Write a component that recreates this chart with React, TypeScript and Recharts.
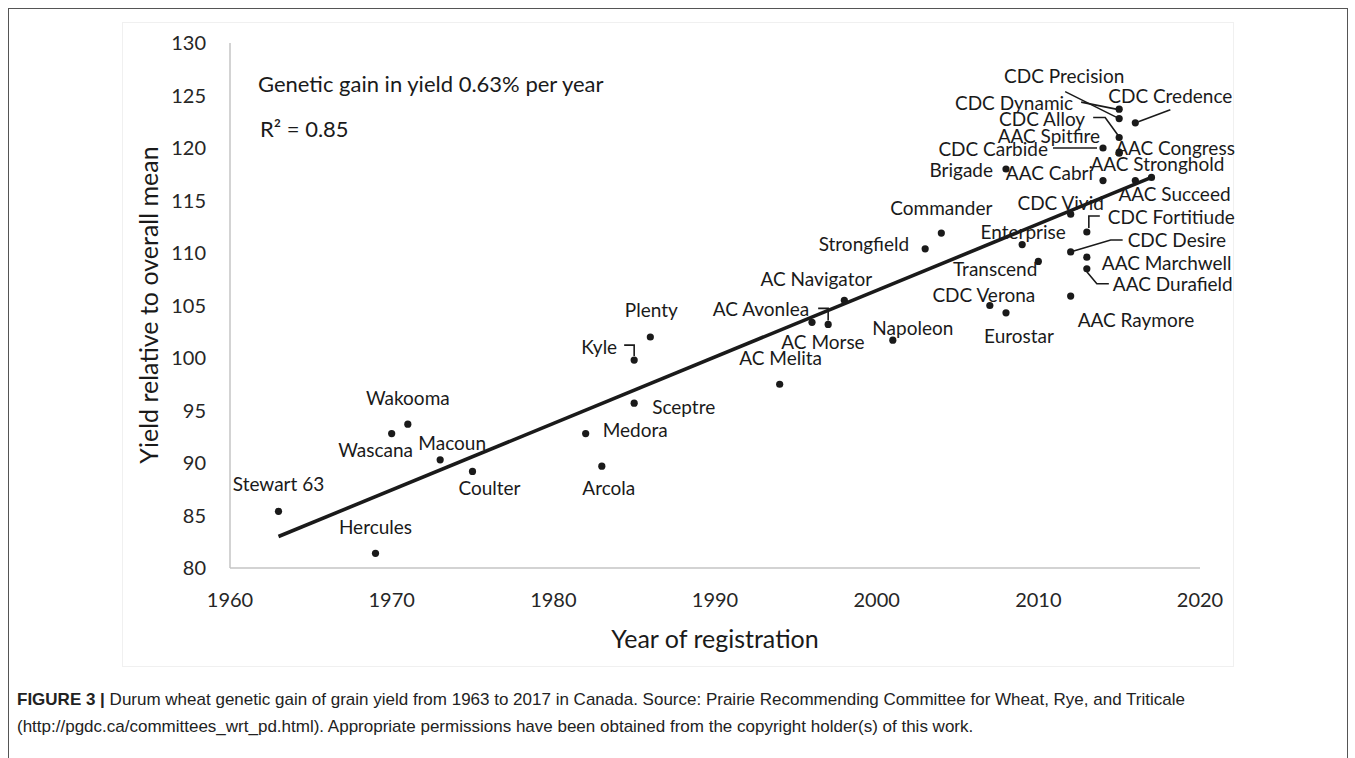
import { Scatter, ScatterChart, XAxis, YAxis } from 'recharts';

// cultivar data
const cultivars = [
  'Stewart 63', 'Hercules', 'Wascana', 'Wakooma', 'Macoun', 'Coulter', 'Medora', 'Arcola',
  'Sceptre', 'Kyle', 'Plenty', 'AC Melita', 'AC Morse', 'AC Avonlea', 'AC Navigator', 'Napoleon',
  'Strongfield', 'Commander', 'CDC Verona', 'Eurostar', 'Brigade', 'Enterprise', 'Transcend',
  'CDC Vivid', 'CDC Desire', 'AAC Raymore', 'CDC Fortitiude', 'AAC Marchwell', 'AAC Durafield',
  'AAC Cabri', 'CDC Carbide', 'AAC Stronghold', 'AAC Succeed', 'CDC Precision', 'CDC Dynamic',
  'CDC Credence', 'CDC Alloy', 'AAC Spitfire', 'AAC Congress',
];
const regYears = [
  1963, 1969, 1970, 1971, 1973, 1975, 1982, 1983,
  1985, 1985, 1986, 1994, 1996, 1997, 1998, 2001,
  2003, 2004, 2007, 2008, 2008, 2009, 2010,
  2012, 2012, 2012, 2013, 2013, 2013,
  2014, 2014, 2016, 2017, 2015, 2015,
  2016, 2015, 2015, 2015,
];
const yieldValues = [
  85.4, 81.4, 92.8, 93.7, 90.3, 89.2, 92.8, 89.7,
  95.7, 99.8, 102.0, 97.5, 103.4, 103.2, 105.5, 101.7,
  110.4, 111.9, 105.0, 104.3, 118.0, 110.8, 109.2,
  113.7, 110.1, 105.9, 112.0, 109.6, 108.5,
  116.9, 120.0, 116.9, 117.2, 122.8, 123.7,
  122.4, 121.0, 119.6, 119.5,
];

// linear trend
const trendYears = [1963, 2017];
const trendYield = [83.0, 117.2];

const xTicks = [1960, 1970, 1980, 1990, 2000, 2010, 2020];
const yTicks = [80, 85, 90, 95, 100, 105, 110, 115, 120, 125, 130];

const points = cultivars.map((name, i) => ({ name, year: regYears[i], y: yieldValues[i] }));
const trend = trendYears.map((year, i) => ({ year, y: trendYield[i] }));

// label placement relative to the dot (px), with optional leader line
type LabelPos = { dx: number; dy: number; anchor?: 'start' | 'middle' | 'end'; leader?: number[][] };
const labelLayout: Record<string, LabelPos> = {
  'Stewart 63': { dx: 0, dy: -28 },
  Hercules: { dx: 0, dy: -27 },
  Wascana: { dx: -16, dy: 16 },
  Wakooma: { dx: 0, dy: -27 },
  Macoun: { dx: 12, dy: -17 },
  Coulter: { dx: 17, dy: 16 },
  Medora: { dx: 17, dy: -4, anchor: 'start' },
  Arcola: { dx: 7, dy: 21 },
  Sceptre: { dx: 18, dy: 3, anchor: 'start' },
  Kyle: { dx: -17, dy: -14, anchor: 'end', leader: [[-10, -15], [0, -15], [0, -4]] },
  Plenty: { dx: 1, dy: -28 },
  'AC Melita': { dx: 1, dy: -27 },
  'AC Morse': { dx: 11, dy: 19 },
  'AC Avonlea': { dx: -19, dy: -16, anchor: 'end', leader: [[-10, -16], [0, -16], [0, -4]] },
  'AC Navigator': { dx: -28, dy: -22 },
  Napoleon: { dx: 20, dy: -13 },
  Strongfield: { dx: -16, dy: -5, anchor: 'end' },
  Commander: { dx: 0, dy: -26 },
  'CDC Verona': { dx: -6, dy: -11 },
  Eurostar: { dx: 13, dy: 23 },
  Brigade: { dx: -13, dy: 0, anchor: 'end' },
  Enterprise: { dx: 1, dy: -13 },
  Transcend: { dx: -1, dy: 7, anchor: 'end' },
  'CDC Vivid': { dx: -10, dy: -12 },
  'CDC Desire': { dx: 57, dy: -12, anchor: 'start', leader: [[3, -1], [40, -12], [52, -12]] },
  'AAC Raymore': { dx: 7, dy: 23, anchor: 'start' },
  'CDC Fortitiude': { dx: 21, dy: -16, anchor: 'start', leader: [[2, -4], [2, -16], [13, -16]] },
  'AAC Marchwell': { dx: 15, dy: 5, anchor: 'start' },
  'AAC Durafield': { dx: 26, dy: 15, anchor: 'start', leader: [[0, 3], [10, 15], [22, 15]] },
  'AAC Cabri': { dx: -10, dy: -8, anchor: 'end' },
  'CDC Carbide': { dx: -55, dy: 0, anchor: 'end', leader: [[-50, 0], [-6, 0]] },
  'AAC Stronghold': { dx: 22, dy: -17 },
  'AAC Succeed': { dx: 23, dy: 16 },
  'CDC Precision': { dx: -55, dy: -43, leader: [[-54, -27], [-2, -1]] },
  'CDC Dynamic': { dx: -46, dy: -7, anchor: 'end', leader: [[-38, -7], [-3, 0]] },
  'CDC Credence': { dx: 35, dy: -27, leader: [[3, -1], [35, -13]] },
  'CDC Alloy': { dx: -34, dy: -19, anchor: 'end', leader: [[-26, -20], [-14, -20], [-1, -2]] },
  'AAC Spitfire': { dx: -19, dy: -17, anchor: 'end' },
  'AAC Congress': { dx: -4, dy: -6, anchor: 'start' },
};

const FONT = 'Lato, "Open Sans", sans-serif';
const INK = '#1a1a1a';

function CultivarDot(props: any) {
  const { cx, cy, payload } = props;
  const pos = labelLayout[payload.name] || { dx: 0, dy: -25 };
  return (
    <g>
      {pos.leader && (
        <polyline
          points={pos.leader.map(([x, y]) => `${cx + x},${cy + y}`).join(' ')}
          fill="none"
          stroke={INK}
          strokeWidth={1.6}
        />
      )}
      <circle cx={cx} cy={cy} r={3.6} fill={INK} />
      <text
        x={cx + pos.dx}
        y={cy + pos.dy}
        textAnchor={pos.anchor || 'middle'}
        dominantBaseline="central"
        fontSize={19}
        fontFamily={FONT}
        fill={INK}
      >
        {payload.name}
      </text>
    </g>
  );
}

export default function App() {
  return (
    <div style={{ position: 'absolute', left: 0, top: 0, width: 1355, height: 758, background: '#fff', overflow: 'hidden' }}>
      <div style={{ position: 'absolute', left: 8, top: 8, width: 1338, height: 780, border: '1px solid #555' }} />
      <div style={{ position: 'absolute', left: 122, top: 22, width: 1110, height: 643, border: '1px solid #f0f0f0' }} />

      <div style={{ position: 'absolute', left: 0, top: 0 }}>
        <ScatterChart width={1355} height={680} margin={{ top: 43, right: 155, bottom: 32, left: 130 }}>
          <XAxis
            type="number"
            dataKey="year"
            domain={[1960, 2020]}
            ticks={xTicks}
            height={80}
            tickLine={false}
            tickSize={0}
            tickMargin={25}
            axisLine={{ stroke: '#c4c4c4', strokeWidth: 1.5 }}
            tick={{ fontSize: 20, fontFamily: FONT, fill: '#262626' }}
          />
          <YAxis
            type="number"
            dataKey="y"
            domain={[80, 130]}
            ticks={yTicks}
            width={100}
            tickLine={false}
            tickSize={0}
            tickMargin={24}
            axisLine={{ stroke: '#c4c4c4', strokeWidth: 1.5 }}
            tick={{ fontSize: 20, fontFamily: FONT, fill: '#262626' }}
          />
          <Scatter data={points} shape={CultivarDot} isAnimationActive={false} />
          <Scatter
            data={trend}
            line={{ stroke: INK, strokeWidth: 3.6 }}
            shape={() => <g />}
            isAnimationActive={false}
          />
        </ScatterChart>
      </div>

      <div style={{ position: 'absolute', left: 258, top: 70, fontFamily: FONT, fontSize: 22, color: INK, whiteSpace: 'nowrap' }}>
        Genetic gain in yield 0.63% per year
      </div>
      <div style={{ position: 'absolute', left: 260, top: 115, fontFamily: FONT, fontSize: 22, color: INK, whiteSpace: 'nowrap' }}>
        R² = 0.85
      </div>

      <div
        style={{
          position: 'absolute', left: 148, top: 305, transform: 'translate(-50%, -50%) rotate(-90deg)',
          fontFamily: FONT, fontSize: 25, color: INK, whiteSpace: 'nowrap',
        }}
      >
        Yield relative to overall mean
      </div>
      <div
        style={{
          position: 'absolute', left: 715, top: 638, transform: 'translate(-50%, -50%)',
          fontFamily: FONT, fontSize: 25, color: INK, whiteSpace: 'nowrap',
        }}
      >
        Year of registration
      </div>

      <div
        style={{
          position: 'absolute', left: 17, top: 686, width: 1330, fontFamily: '"Liberation Sans", Arial, sans-serif',
          fontSize: 17, lineHeight: '27px', color: '#222', whiteSpace: 'nowrap',
        }}
      >
        <b>FIGURE 3 |</b> Durum wheat genetic gain of grain yield from 1963 to 2017 in Canada. Source: Prairie Recommending Committee for Wheat, Rye, and Triticale
        <br />
        (http://pgdc.ca/committees_wrt_pd.html). Appropriate permissions have been obtained from the copyright holder(s) of this work.
      </div>
    </div>
  );
}
